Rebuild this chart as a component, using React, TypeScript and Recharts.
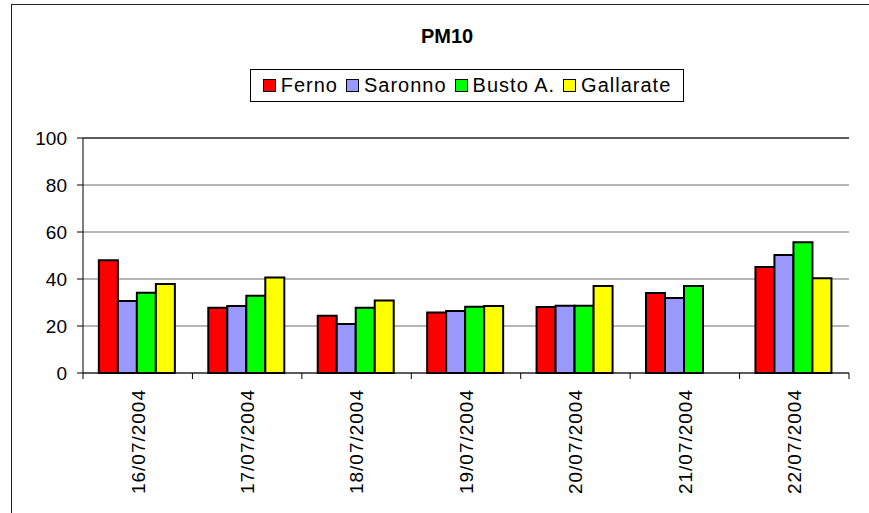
import React from "react"
import {
  BarChart,
  Bar,
  XAxis,
  YAxis,
  CartesianGrid,
  ReferenceLine,
} from "recharts"

const dates = [
  "16/07/2004",
  "17/07/2004",
  "18/07/2004",
  "19/07/2004",
  "20/07/2004",
  "21/07/2004",
  "22/07/2004",
]
const ferno = [48, 27.8, 24.4, 25.7, 28.1, 34, 45.1]
const saronno = [30.6, 28.5, 20.9, 26.4, 28.6, 31.9, 50.2]
const bustoA = [34.2, 32.9, 27.8, 28.2, 28.6, 37, 55.6]
const gallarate = [37.9, 40.6, 30.8, 28.5, 37, null, 40.3]
const yTicks = [0, 20, 40, 60, 80, 100]

const series = [
  { key: "Ferno", color: "#ff0000" },
  { key: "Saronno", color: "#9999ff" },
  { key: "Busto A.", color: "#00ff00" },
  { key: "Gallarate", color: "#ffff00" },
]

const data = dates.map((d, i) => ({
  date: d,
  Ferno: ferno[i],
  Saronno: saronno[i],
  "Busto A.": bustoA[i],
  Gallarate: gallarate[i],
}))

const W = 869
const H = 513
const plotLeft = 83
const plotRight = 849
const band = (plotRight - plotLeft) / dates.length
const font = "'Liberation Sans', Arial, sans-serif"

const DateTick = (props: any) => {
  const { x, y, payload, index } = props
  return (
    <g transform={`translate(${x},${y})`}>
      <line x1={-band / 2} y1={0} x2={-band / 2} y2={6} stroke="#000" />
      {index === dates.length - 1 && (
        <line x1={band / 2} y1={0} x2={band / 2} y2={6} stroke="#000" />
      )}
      <text
        transform="rotate(-90)"
        x={-16}
        y={0}
        dy="0.36em"
        textAnchor="end"
        fontSize={19}
        letterSpacing={1}
        fill="#000"
        fontFamily={font}
      >
        {payload.value}
      </text>
    </g>
  )
}

const App: React.FC = () => {
  return (
    <div
      style={{
        position: "absolute",
        left: 0,
        top: 0,
        width: W,
        height: H,
        overflow: "hidden",
        background: "#fff",
        fontFamily: font,
      }}
    >
      {/* outer chart frame, runs off the right and bottom */}
      <div
        style={{
          position: "absolute",
          left: 11,
          top: 4,
          width: 900,
          height: 560,
          border: "1.5px solid #222",
        }}
      />
      <div
        style={{
          position: "absolute",
          left: 0,
          width: 894,
          top: 25,
          textAlign: "center",
          fontWeight: "bold",
          fontSize: 20,
          lineHeight: "22px",
        }}
      >
        PM10
      </div>
      <div
        style={{
          position: "absolute",
          left: 250,
          top: 69,
          width: 432,
          height: 31,
          border: "1px solid #000",
          display: "flex",
          alignItems: "center",
          justifyContent: "center",
          fontSize: 20,
          letterSpacing: 1,
          gap: 8,
        }}
      >
        {series.map((s) => (
          <div key={s.key} style={{ display: "flex", alignItems: "center" }}>
            <span
              style={{
                width: 11,
                height: 11,
                background: s.color,
                border: "1.5px solid #000",
                marginRight: 5,
              }}
            />
            <span>{s.key}</span>
          </div>
        ))}
      </div>
      <div style={{ position: "absolute", left: 0, top: 0 }}>
        <BarChart
          width={W}
          height={H}
          data={data}
          margin={{ top: 138, right: W - plotRight, bottom: 10, left: plotLeft - 60 }}
          barCategoryGap="14.5%"
          barGap={0}
        >
          <CartesianGrid vertical={false} stroke="#6e6e6e" strokeWidth={1} />
          <XAxis
            dataKey="date"
            height={130}
            tickLine={false}
            tickSize={0}
            tickMargin={0}
            axisLine={{ stroke: "#000" }}
            interval={0}
            tick={<DateTick />}
          />
          <YAxis
            domain={[0, 100]}
            ticks={yTicks}
            width={60}
            tickSize={6}
            tickMargin={10}
            axisLine={{ stroke: "#000" }}
            tickLine={{ stroke: "#000" }}
            tick={{ fill: "#000", fontSize: 19, fontFamily: font }}
          />
          <YAxis
            yAxisId="frame"
            orientation="right"
            width={0}
            tick={false}
            tickLine={false}
            axisLine={{ stroke: "#000" }}
          />
          <ReferenceLine y={100} stroke="#000" />
          {series.map((s) => (
            <Bar
              key={s.key}
              dataKey={s.key}
              fill={s.color}
              stroke="#000"
              strokeWidth={2}
              isAnimationActive={false}
            />
          ))}
        </BarChart>
      </div>
    </div>
  )
}

export default App
